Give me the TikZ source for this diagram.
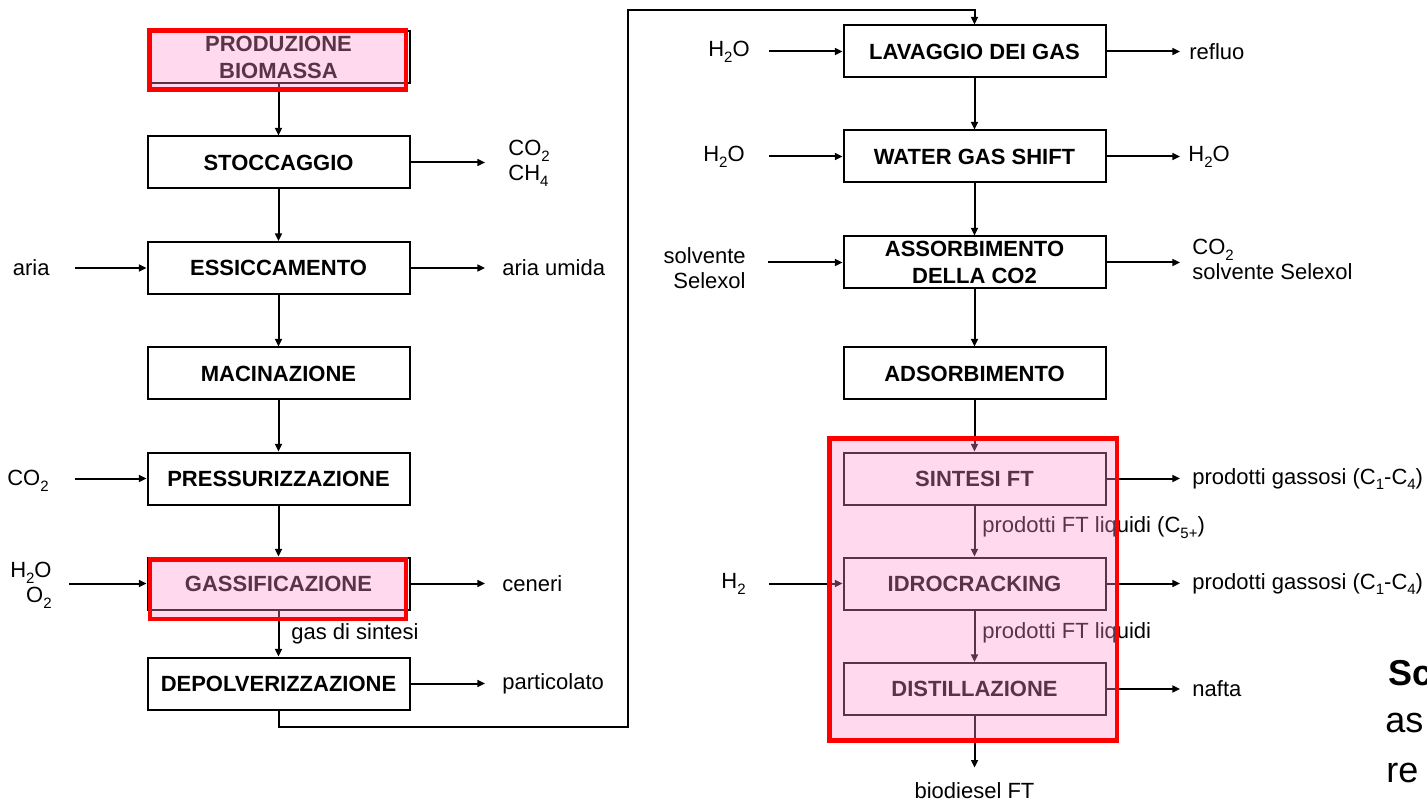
\documentclass[tikz,border=0pt]{standalone}
\usepackage{fontspec}
\setmainfont{Liberation Sans}
\usetikzlibrary{arrows.meta}
\definecolor{rosa}{RGB}{255,150,205}
\newcommand\pedice[1]{\raisebox{-0.5ex}{\fontsize{7.5}{8}\selectfont#1}}
\tikzset{
  blocco/.style={draw, line width=1pt, minimum width=131pt, minimum height=26pt,
    inner sep=0pt, align=center, font=\bfseries\fontsize{11}{13.5}\selectfont},
  testo/.style={inner sep=0pt, font=\fontsize{11}{12.5}\selectfont},
  flusso/.style={-{Triangle[length=3.8pt,width=3.4pt]}, line width=1pt},
  evidenza/.style={draw=red, line width=2.2pt, fill=rosa, fill opacity=0.35},
}
\begin{document}
\begin{tikzpicture}[x=0.5pt, y=-0.5pt] % 1 unita = 1 pixel
\useasboundingbox (0,0) rectangle (1427,801);
% colonna sinistra
\node[blocco] (produzione) at (278.5,57) {PRODUZIONE\\BIOMASSA};
\node[blocco] (stoccaggio) at (278.5,162.5) {STOCCAGGIO};
\node[blocco] (essiccamento) at (278.5,268) {ESSICCAMENTO};
\node[blocco] (macinazione) at (278.5,373.5) {MACINAZIONE};
\node[blocco] (pressurizzazione) at (278.5,478.5) {PRESSURIZZAZIONE};
\node[blocco] (gassificazione) at (278.5,583.5) {GASSIFICAZIONE};
\node[blocco] (depolverizzazione) at (278.5,683.5) {DEPOLVERIZZAZIONE};
\foreach \a/\b in {produzione/stoccaggio, stoccaggio/essiccamento, essiccamento/macinazione,
  macinazione/pressurizzazione, pressurizzazione/gassificazione, gassificazione/depolverizzazione}
  \draw[flusso] (\a) -- (\b);
\node[testo, anchor=west] (gassintesi) at (291,634) {gas di sintesi};
% ingressi e uscite a sinistra
\node[testo, anchor=east] (aria) at (50,268) {aria};
\node[testo, anchor=east] (co2in) at (49,481) {CO\pedice{2}};
\node[testo, anchor=east, align=right] (h2oo2) at (52,585) {H\pedice{2}O\\O\pedice{2}};
\draw[flusso, shorten <=12.5pt] (aria.east |- essiccamento) -- (essiccamento);
\draw[flusso, shorten <=13pt] (co2in.east |- pressurizzazione) -- (pressurizzazione);
\draw[flusso, shorten <=8.5pt] (h2oo2.east |- gassificazione) -- (gassificazione);
\node[testo, anchor=west, align=left] (gasstocc) at (508,163) {CO\pedice{2}\\CH\pedice{4}};
\node[testo, anchor=west] (ariaumida) at (502,268) {aria umida};
\node[testo, anchor=west] (ceneri) at (502,583.5) {ceneri};
\node[testo, anchor=west] (particolato) at (502,684) {particolato};
\draw[flusso, shorten >=11.5pt] (stoccaggio) -- (stoccaggio -| gasstocc.west);
\draw[flusso, shorten >=8.5pt] (essiccamento) -- (essiccamento -| ariaumida.west);
\draw[flusso, shorten >=8.5pt] (gassificazione) -- (gassificazione -| ceneri.west);
\draw[flusso, shorten >=8.5pt] (depolverizzazione) -- (depolverizzazione -| particolato.west);
% colonna destra
\node[blocco] (lavaggio) at (974.5,51.5) {LAVAGGIO DEI GAS};
\node[blocco] (shift) at (974.5,156.5) {WATER GAS SHIFT};
\node[blocco] (assorbimento) at (974.5,262.5) {ASSORBIMENTO\\DELLA CO2};
\node[blocco] (adsorbimento) at (974.5,373.5) {ADSORBIMENTO};
\node[blocco] (sintesi) at (974.5,478.5) {SINTESI FT};
\node[blocco] (idrocracking) at (974.5,583.5) {IDROCRACKING};
\node[blocco] (distillazione) at (974.5,689) {DISTILLAZIONE};
\foreach \a/\b in {lavaggio/shift, shift/assorbimento, assorbimento/adsorbimento,
  adsorbimento/sintesi, sintesi/idrocracking, idrocracking/distillazione}
  \draw[flusso] (\a) -- (\b);
\node[testo, anchor=west] (liquidi1) at (982,528) {prodotti FT liquidi (C\pedice{5+})};
\node[testo, anchor=west] (liquidi2) at (982,633) {prodotti FT liquidi};
\node[testo, anchor=base] (biodiesel) at (974.5,798) {biodiesel FT};
\draw[flusso, shorten >=7pt] (distillazione) -- (biodiesel);
% collegamento fra le colonne
\coordinate (giro) at (628,727);
\coordinate (cima) at (974.5,10);
\draw[flusso] (depolverizzazione.south) |- (giro) |- (cima) -- (lavaggio.north);
% ingressi e uscite a destra
\node[testo, anchor=east] (h2oa) at (750,52) {H\pedice{2}O};
\node[testo, anchor=east] (h2ob) at (745,157) {H\pedice{2}O};
\node[testo, anchor=east, align=right] (solvente) at (746,268.5) {solvente\\Selexol};
\node[testo, anchor=east] (h2) at (746,584) {H\pedice{2}};
\draw[flusso, shorten <=9.5pt] (h2oa.east |- lavaggio) -- (lavaggio);
\draw[flusso, shorten <=12pt] (h2ob.east |- shift) -- (shift);
\draw[flusso, shorten <=11pt] (solvente.east |- assorbimento) -- (assorbimento);
\draw[flusso, shorten <=11.5pt] (h2.east |- idrocracking) -- (idrocracking);
\node[testo, anchor=west] (refluo) at (1189,52) {refluo};
\node[testo, anchor=west] (h2oout) at (1188,157) {H\pedice{2}O};
\node[testo, anchor=west, align=left] (co2out) at (1192,259.5) {CO\pedice{2}\\solvente Selexol};
\node[testo, anchor=west] (gassosi1) at (1192,479) {prodotti gassosi (C\pedice{1}-C\pedice{4})};
\node[testo, anchor=west] (gassosi2) at (1192,584) {prodotti gassosi (C\pedice{1}-C\pedice{4})};
\node[testo, anchor=west] (nafta) at (1192,689) {nafta};
\draw[flusso, shorten >=4.5pt] (lavaggio) -- (lavaggio -| refluo.west);
\draw[flusso, shorten >=4pt] (shift) -- (shift -| h2oout.west);
\draw[flusso, shorten >=6pt] (assorbimento) -- (assorbimento -| co2out.west);
\draw[flusso, shorten >=6pt] (sintesi) -- (sintesi -| gassosi1.west);
\draw[flusso, shorten >=6pt] (idrocracking) -- (idrocracking -| gassosi2.west);
\draw[flusso, shorten >=6pt] (distillazione) -- (distillazione -| nafta.west);
% testo tagliato a destra
\node[anchor=base west, inner sep=0pt, font=\bfseries\fontsize{18}{22}\selectfont] (titolo) at (1388,685) {Sc};
\node[anchor=base west, inner sep=0pt, font=\fontsize{18}{22}\selectfont] (riga2) at (1385,732) {as};
\node[anchor=base west, inner sep=0pt, font=\fontsize{18}{22}\selectfont] (riga3) at (1386,782) {re};
% evidenziazioni
\draw[evidenza] (149.5,30.5) rectangle (406,89.5);
\draw[evidenza] (150,559.5) rectangle (406,619);
\draw[evidenza] (829.5,438.5) rectangle (1117,740.5);
\end{tikzpicture}
\end{document}
